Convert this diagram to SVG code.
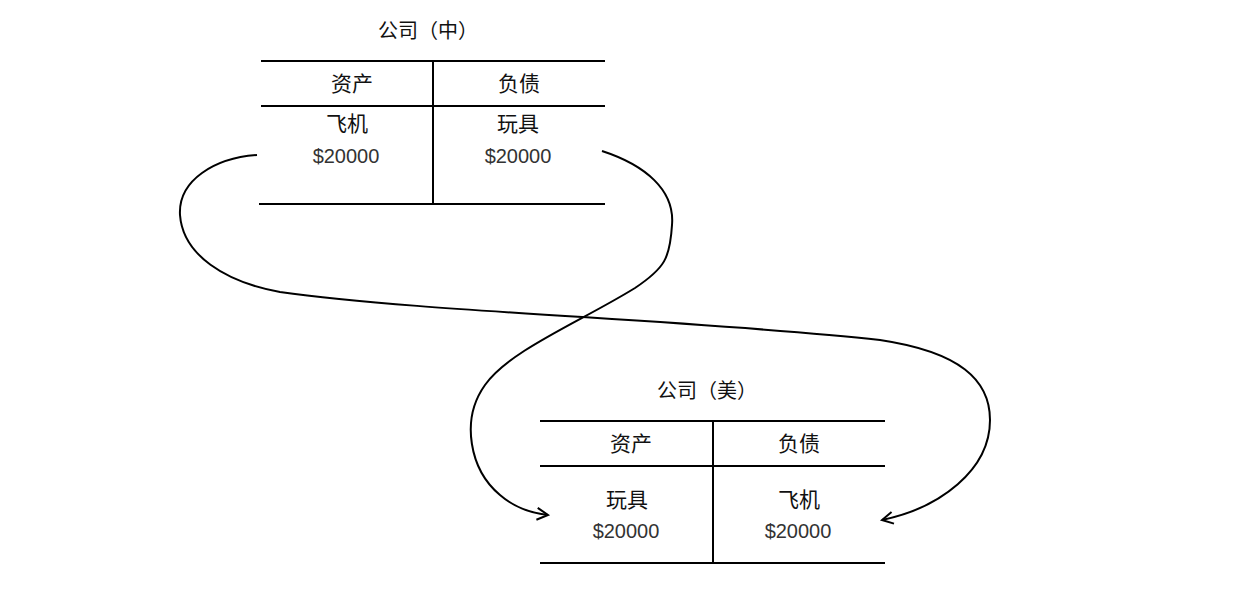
<svg xmlns="http://www.w3.org/2000/svg" width="1240" height="598" viewBox="0 0 1240 598">
<defs>
<style>
.t{font-family:"Liberation Sans","Noto Sans CJK SC",sans-serif;font-size:21px;fill:#111;text-anchor:middle}
.h{font-family:"Liberation Sans","Noto Sans CJK SC",sans-serif;font-size:20px;fill:#111;text-anchor:middle}
.n{font-family:"Liberation Sans","Noto Sans CJK SC",sans-serif;font-size:20px;fill:#333;text-anchor:middle}
.l{stroke:#000;stroke-width:2;fill:none}
.c{stroke:#000;stroke-width:2;fill:none;marker-end:url(#ah)}
</style>
<marker id="ah" markerWidth="16" markerHeight="16" refX="13" refY="8" orient="auto" markerUnits="userSpaceOnUse">
<path d="M2,2 L13,8 L2,14" fill="none" stroke="#000" stroke-width="2"/>
</marker>
</defs>
<rect width="1240" height="598" fill="#fff"/>
<g id="company-cn">
<text class="h" x="428" y="38">公司（中）</text>
<line class="l" x1="261" y1="61" x2="605" y2="61"/>
<line class="l" x1="261" y1="106" x2="605" y2="106"/>
<line class="l" x1="259" y1="204" x2="605" y2="204"/>
<line class="l" x1="433" y1="61" x2="433" y2="204"/>
<text class="t" x="352" y="91">资产</text>
<text class="t" x="519" y="91">负债</text>
<text class="t" x="347" y="131">飞机</text>
<text class="n" x="346" y="163">$20000</text>
<text class="t" x="518" y="131">玩具</text>
<text class="n" x="518" y="163">$20000</text>
</g>
<g id="company-us">
<text class="h" x="707" y="398">公司（美）</text>
<line class="l" x1="540" y1="421" x2="885" y2="421"/>
<line class="l" x1="540" y1="466" x2="885" y2="466"/>
<line class="l" x1="540" y1="563" x2="885" y2="563"/>
<line class="l" x1="713" y1="421" x2="713" y2="563"/>
<text class="t" x="631" y="451">资产</text>
<text class="t" x="799" y="451">负债</text>
<text class="t" x="627" y="507">玩具</text>
<text class="n" x="626" y="538">$20000</text>
<text class="t" x="799" y="507">飞机</text>
<text class="n" x="798" y="538">$20000</text>
</g>
<g id="connectors">
<path class="c" d="M257,155 C215,158 178,180 180,215 C183,255 225,282 280,292 C420,312 700,320 880,340 C960,352 990,380 990,420 C990,470 940,508 882,520"/>
<path class="c" d="M602,151 C645,165 675,190 672,225 C670,258 665,268 635,288 C580,322 510,350 485,385 C460,420 470,470 500,495 C515,508 530,513 548,515"/>
</g>
</svg>
